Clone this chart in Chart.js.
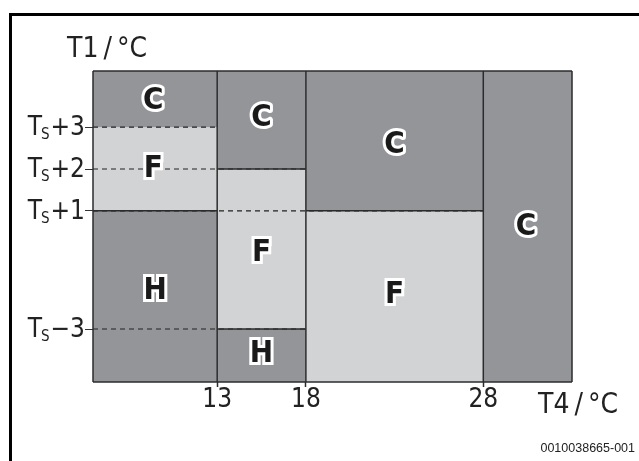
<!DOCTYPE html>
<html>
<head>
<meta charset="utf-8">
<script src="https://cdn.jsdelivr.net/npm/chart.js@4.4.0/dist/chart.umd.min.js"></script>
<style>
html, body { margin: 0; padding: 0; background: #fff; }
#wrap { width: 639px; height: 461px; position: relative; }
</style>
</head>
<body>
<div id="wrap"><canvas id="modeChart"></canvas></div>
<script>
// T4 axis (outside temperature) switch points
var xTicks = [13, 18, 28];
var xRange = [6, 33];
// T1 axis is schematic, levels sit at these unitless positions
var yLevelSigns = ["\u22123", "+1", "+2", "+3"];
var yLevels = [1.0, 3.23, 4.02, 4.81];
var yRange = [0, 5.87];
// how far to the right each level's dashed guide runs
var guideEnds = [18, 28, 18, 13];

// operating regions
var regionMode = ["C", "F", "H", "C", "F", "H", "C", "F", "C"];
var regionX0 = [6, 6, 6, 13, 13, 13, 18, 18, 28];
var regionX1 = [13, 13, 13, 18, 18, 18, 28, 28, 33];
var regionY0 = [4.81, 3.23, 0, 4.02, 1.0, 0, 3.23, 0, 0];
var regionY1 = [5.87, 4.81, 3.23, 5.87, 4.02, 1.0, 5.87, 3.23, 5.87];
var labelX = [9.4, 9.4, 9.5, 15.5, 15.5, 15.5, 23, 23, 30.4];
var labelY = [5.3, 4.02, 1.72, 4.98, 2.43, 0.53, 4.47, 1.64, 2.92];

// solid region borders [x0, y0, x1, y1]
var borderSegs = [
  [6, 0, 6, 5.87], [6, 0, 33, 0], [6, 5.87, 33, 5.87], [33, 0, 33, 5.87],
  [13, 0, 13, 5.87], [18, 0, 18, 5.87], [28, 0, 28, 5.87],
  [6, 3.23, 13, 3.23], [13, 4.02, 18, 4.02], [13, 1.0, 18, 1.0], [18, 3.23, 28, 3.23]
];

var modeColors = { C: "#939598", H: "#939598", F: "#d1d3d4" };
var narrow = "'Liberation Sans Narrow', 'DejaVu Sans Condensed', sans-serif";

var datasets = [];
regionMode.forEach(function (m, i) {
  datasets.push({
    data: [{ x: regionX0[i], y: regionY1[i] }, { x: regionX1[i], y: regionY1[i] }],
    fill: { value: regionY0[i] },
    backgroundColor: modeColors[m],
    borderWidth: 0,
    pointRadius: 0,
    order: 3
  });
});
yLevels.forEach(function (v, i) {
  datasets.push({
    data: [{ x: xRange[0], y: v }, { x: guideEnds[i], y: v }],
    borderColor: "#222",
    borderWidth: 1.2,
    borderDash: [5, 4],
    pointRadius: 0,
    fill: false,
    order: 2
  });
});
borderSegs.forEach(function (s) {
  datasets.push({
    data: [{ x: s[0], y: s[1] }, { x: s[2], y: s[3] }],
    borderColor: "#2b2b2b",
    borderWidth: 1.5,
    pointRadius: 0,
    fill: false,
    clip: 4,
    order: 1
  });
});

var extras = {
  id: "extras",
  beforeDraw: function (chart) {
    var ctx = chart.ctx;
    ctx.save();
    ctx.fillStyle = "#fff";
    ctx.fillRect(0, 0, chart.width, chart.height);
    ctx.strokeStyle = "#000";
    ctx.lineWidth = 3;
    ctx.beginPath();
    ctx.moveTo(10.5, 470);
    ctx.lineTo(10.5, 14.5);
    ctx.lineTo(chart.width + 5, 14.5);
    ctx.stroke();
    ctx.restore();
  },
  afterDatasetsDraw: function (chart) {
    var ctx = chart.ctx;
    var xs = chart.scales.x, ys = chart.scales.y;
    ctx.save();
    // region letters
    ctx.textAlign = "center";
    ctx.textBaseline = "middle";
    ctx.font = "bold 31px " + narrow;
    regionMode.forEach(function (m, i) {
      var px = xs.getPixelForValue(labelX[i]);
      var py = ys.getPixelForValue(labelY[i]);
      ctx.lineJoin = m === "C" ? "round" : "miter";
      ctx.lineWidth = 6;
      ctx.strokeStyle = "#fff";
      ctx.strokeText(m, px, py);
      ctx.fillStyle = "#1a1a1a";
      ctx.fillText(m, px, py);
    });
    // y tick labels with subscript S
    ctx.textAlign = "left";
    ctx.textBaseline = "alphabetic";
    ctx.fillStyle = "#222";
    yLevels.forEach(function (v, i) {
      var base = ys.getPixelForValue(v) + 8;
      ctx.font = "26px " + narrow;
      var wT = ctx.measureText("T").width;
      var wR = ctx.measureText(yLevelSigns[i]).width;
      ctx.font = "15px " + narrow;
      var wS = ctx.measureText("S").width;
      var x = 85 - wT - wS - wR;
      ctx.font = "26px " + narrow;
      ctx.fillText("T", x, base);
      ctx.font = "15px " + narrow;
      ctx.fillText("S", x + wT - 1, base + 4);
      ctx.font = "26px " + narrow;
      ctx.fillText(yLevelSigns[i], x + wT + wS, base);
    });
    // axis titles
    ctx.font = "28px " + narrow;
    ctx.fillText("T1\u2009/\u2009\u00b0C", 67, 57);
    ctx.fillText("T4\u2009/\u2009\u00b0C", 538, 413);
    ctx.font = "12.5px 'Liberation Sans', Arial, sans-serif";
    ctx.textAlign = "right";
    ctx.fillText("0010038665-001", 635, 452);
    ctx.restore();
  }
};

new Chart("modeChart", {
  type: "line",
  data: { datasets: datasets },
  options: {
    responsive: true,
    maintainAspectRatio: false,
    animation: false,
    layout: { padding: { left: 0, top: 71, right: 67, bottom: 39 } },
    plugins: {
      legend: { display: false },
      tooltip: { enabled: false },
      filler: { drawTime: "beforeDatasetsDraw" }
    },
    scales: {
      x: {
        type: "linear",
        min: xRange[0],
        max: xRange[1],
        afterBuildTicks: function (scale) {
          scale.ticks = xTicks.map(function (v) { return { value: v }; });
        },
        afterFit: function (scale) { scale.height = 40; },
        grid: { drawOnChartArea: false, tickLength: 5, tickColor: "#2b2b2b", tickWidth: 1.5 },
        border: { display: false },
        ticks: { font: { family: narrow, size: 26 }, color: "#222", padding: -2, maxRotation: 0 }
      },
      y: {
        type: "linear",
        min: yRange[0],
        max: yRange[1],
        afterBuildTicks: function (scale) {
          scale.ticks = yLevels.map(function (v) { return { value: v }; });
        },
        afterFit: function (scale) { scale.width = 93; },
        grid: { drawOnChartArea: false, tickLength: 8, tickColor: "#333", tickWidth: 1 },
        border: { display: false },
        ticks: { display: false }
      }
    }
  },
  plugins: [extras]
});
</script>
</body>
</html>
